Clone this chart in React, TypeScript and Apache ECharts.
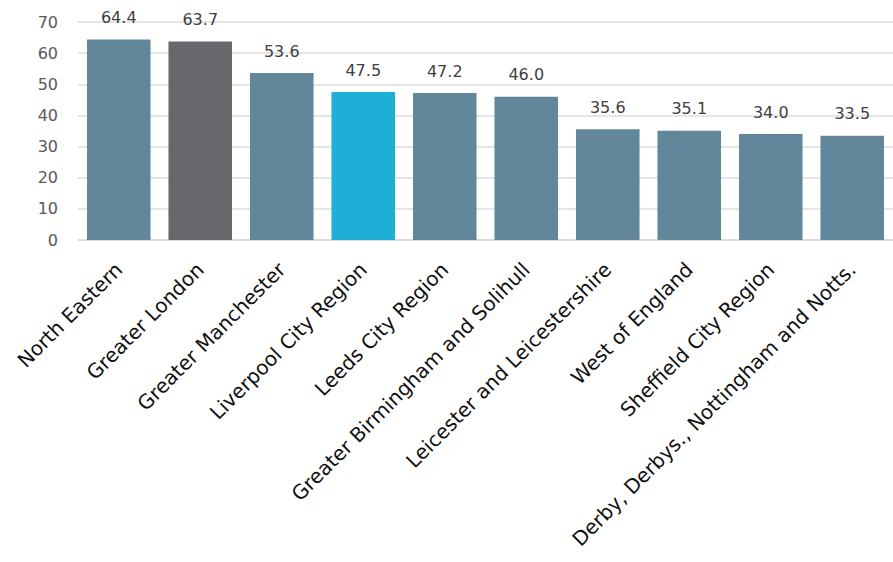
import React, { useEffect, useRef } from "react";
import * as echarts from "echarts";

const categories = [
  "North Eastern",
  "Greater London",
  "Greater Manchester",
  "Liverpool City Region",
  "Leeds City Region",
  "Greater Birmingham and Solihull",
  "Leicester and Leicestershire",
  "West of England",
  "Sheffield City Region",
  "Derby, Derbys., Nottingham and Notts.",
];
const values = [64.4, 63.7, 53.6, 47.5, 47.2, 46.0, 35.6, 35.1, 34.0, 33.5];
const barColors = [
  "#62879A", "#69676C", "#62879A", "#1EAFD6", "#62879A",
  "#62879A", "#62879A", "#62879A", "#62879A", "#62879A",
];
const yTicks = { min: 0, max: 70, interval: 10 };

export default function App() {
  const ref = useRef<HTMLDivElement>(null);
  useEffect(() => {
    if (!ref.current) return;
    const chart = echarts.init(ref.current, null, { renderer: "svg" });
    chart.setOption({
      animation: false,
      textStyle: { fontFamily: "DejaVu Sans" },
      grid: { left: 78, right: 0, top: 22, bottom: 322 },
      xAxis: {
        type: "category",
        data: categories,
        axisTick: { show: false },
        axisLine: { show: true, lineStyle: { color: "#d9d9d9", width: 1.5 } },
        axisLabel: {
          rotate: 45,
          interval: 0,
          color: "#111",
          fontSize: 20,
          margin: 26,
          fontFamily: "DejaVu Sans",
        },
      },
      yAxis: {
        type: "value",
        min: yTicks.min,
        max: yTicks.max,
        interval: yTicks.interval,
        axisLine: { show: false },
        axisTick: { show: false },
        splitLine: { lineStyle: { color: "#dcdcdc", width: 1.5 } },
        axisLabel: { color: "#595959", fontSize: 16, margin: 20 },
      },
      series: [
        {
          type: "bar",
          barCategoryGap: "22%",
          data: values.map((v, i) => ({ value: v, itemStyle: { color: barColors[i] } })),
          label: {
            show: true,
            position: "top",
            distance: 14,
            formatter: (p: any) => Number(p.value).toFixed(1),
            color: "#404040",
            fontSize: 16,
          },
        },
      ],
    });
    return () => chart.dispose();
  }, []);
  return <div ref={ref} style={{ width: 893, height: 562, position: "absolute", left: 0, top: 0 }} />;
}
